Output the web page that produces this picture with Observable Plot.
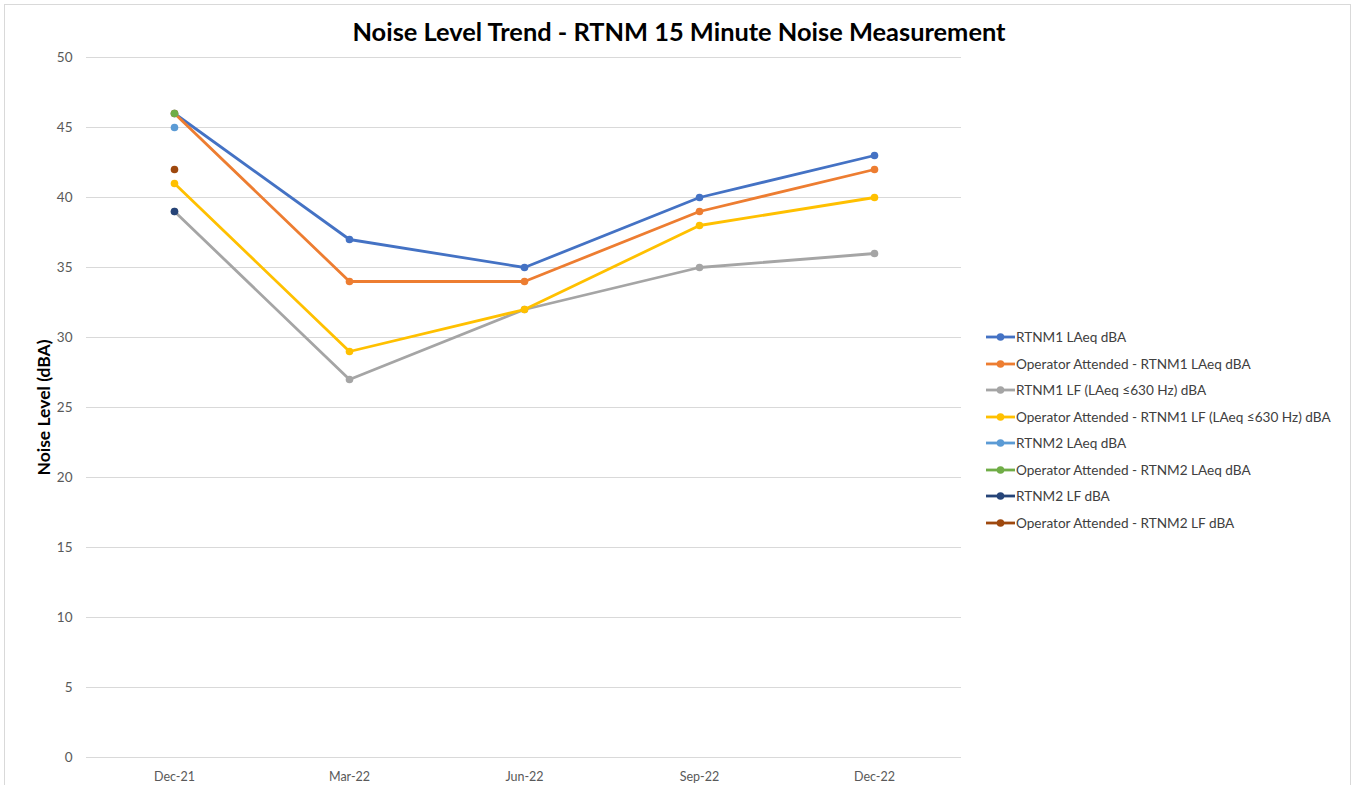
<!DOCTYPE html>
<html>
<head>
<meta charset="utf-8">
<script src="https://cdn.jsdelivr.net/npm/d3@7"></script>
<script src="https://cdn.jsdelivr.net/npm/@observablehq/plot@0.6"></script>
<style>
  html, body { margin: 0; padding: 0; background: #fff; }
  body { width: 1356px; height: 785px; position: relative; overflow: hidden; font-family: Lato, "Open Sans", sans-serif; }
  #frame { position: absolute; left: 4px; top: 4px; width: 1347px; height: 800px; border: 1px solid #d9d9d9; box-sizing: border-box; }
  #title { position: absolute; left: 0; width: 1358px; top: 16px; text-align: center; font-weight: bold; font-size: 25.4px; color: #000; }
  #chart { position: absolute; left: 0; top: 0; }
  #legend { position: absolute; left: 985px; top: 324px; font-size: 13.6px; color: #404040; }
  .item { height: 26.5px; display: flex; align-items: center; white-space: nowrap; }
  .sw { width: 31px; height: 12px; margin-right: 0px; }
</style>
</head>
<body>
<div id="frame"></div>
<div id="chart"></div>
<div id="title">Noise Level Trend - RTNM 15 Minute Noise Measurement</div>
<div id="legend"></div>
<script>
const categories = ["Dec-21", "Mar-22", "Jun-22", "Sep-22", "Dec-22"];
const seriesNames = [
  "RTNM1 LAeq dBA",
  "Operator Attended - RTNM1 LAeq dBA",
  "RTNM1 LF (LAeq \u2264630 Hz) dBA",
  "Operator Attended - RTNM1 LF (LAeq \u2264630 Hz) dBA",
  "RTNM2 LAeq dBA",
  "Operator Attended - RTNM2 LAeq dBA",
  "RTNM2 LF dBA",
  "Operator Attended - RTNM2 LF dBA"
];
const seriesColors = ["#4472C4", "#ED7D31", "#A5A5A5", "#FFC000", "#5B9BD5", "#70AD47", "#264478", "#9E480E"];
const rtnm1LAeq = [46, 37, 35, 40, 43];
const opRtnm1LAeq = [46, 34, 34, 39, 42];
const rtnm1LF = [39, 27, 32, 35, 36];
const opRtnm1LF = [41, 29, 32, 38, 40];
const rtnm2LAeq = [45, null, null, null, null];
const opRtnm2LAeq = [46, null, null, null, null];
const rtnm2LF = [39, null, null, null, null];
const opRtnm2LF = [42, null, null, null, null];
const yTicks = [0, 5, 10, 15, 20, 25, 30, 35, 40, 45, 50];
const yLabel = "Noise Level (dBA)";

const seriesValues = [rtnm1LAeq, opRtnm1LAeq, rtnm1LF, opRtnm1LF, rtnm2LAeq, opRtnm2LAeq, rtnm2LF, opRtnm2LF];
const tables = seriesValues.map((vals, i) =>
  vals.map((v, j) => ({series: seriesNames[i], cat: categories[j], value: v})).filter(d => d.value != null)
);

const seriesMarks = tables.flatMap((t, i) => [
  Plot.line(t, {x: "cat", y: "value", stroke: seriesColors[i], strokeWidth: 2.8, strokeLinecap: "round", strokeLinejoin: "round"}),
  Plot.dot(t, {x: "cat", y: "value", fill: seriesColors[i], r: 3.8, stroke: "none"})
]);

const chart = Plot.plot({
  width: 1356,
  height: 785,
  marginLeft: 86,
  marginRight: 395,
  marginTop: 57,
  marginBottom: 28,
  style: {fontFamily: "Lato, 'Open Sans', sans-serif", background: "transparent"},
  x: {type: "point", domain: categories, padding: 0.5, label: null},
  y: {domain: [0, 50], ticks: yTicks, label: null},
  marks: [
    Plot.ruleY(yTicks, {stroke: "#d9d9d9", strokeWidth: 1}),
    Plot.axisY({ticks: yTicks, tickSize: 0, tickPadding: 14, fontSize: 13.5, fill: "#595959", label: null}),
    Plot.axisX({tickSize: 0, tickPadding: 15, fontSize: 12.5, fill: "#595959", label: null}),
    Plot.text([yLabel], {frameAnchor: "left", textAnchor: "middle", rotate: -90, dx: -42, fontSize: 17.5, fontWeight: "bold", fill: "#000"}),
    ...seriesMarks
  ]
});
document.getElementById("chart").appendChild(chart);

const legend = document.getElementById("legend");
seriesNames.forEach((name, i) => {
  const item = document.createElement("div");
  item.className = "item";
  item.innerHTML = `<svg class="sw" width="31" height="12"><line x1="1" x2="30" y1="6" y2="6" stroke="${seriesColors[i]}" stroke-width="2.8"/><circle cx="15.5" cy="6" r="3.8" fill="${seriesColors[i]}"/></svg><span>${name}</span>`;
  legend.appendChild(item);
});
</script>
</body>
</html>
